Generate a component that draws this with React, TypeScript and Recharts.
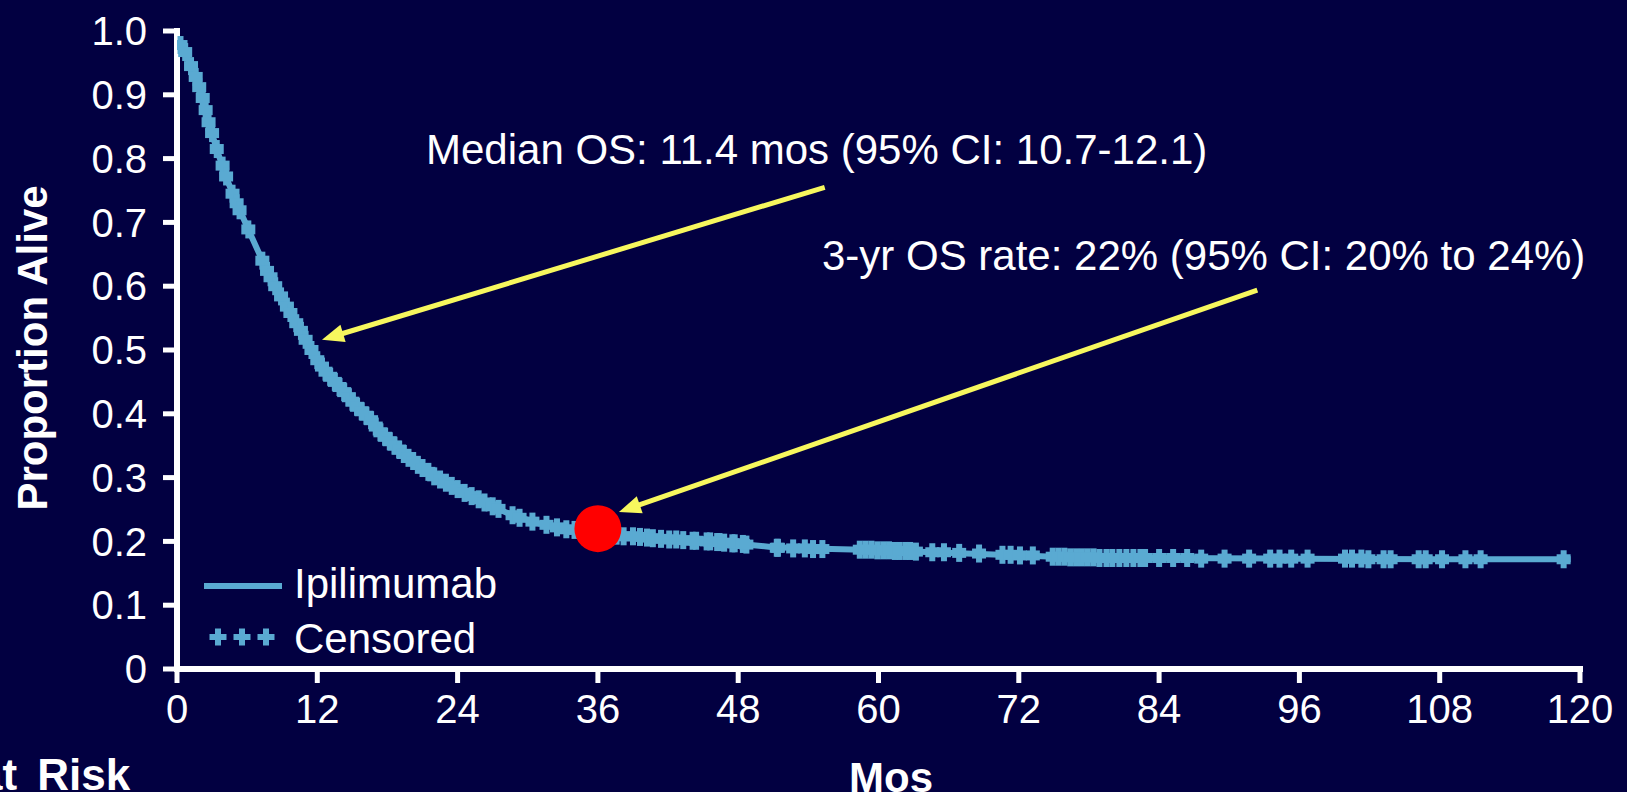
import React from 'react';
import { ComposedChart, Line, Scatter, XAxis, YAxis, ReferenceLine, Legend } from 'recharts';

// ---------- data ----------
const curveMonths = [0, 0.6, 1.2, 1.9, 2.6, 3.5, 4.35, 5.2, 6.2, 7.5, 8.9, 10.0, 11.4, 12.3, 13.3, 14.6, 15.3, 16.6, 17.6, 18.8, 19.9, 21.2, 22.5, 23.9, 25.3, 26.7, 28.2, 29.6, 31.0, 33.3, 36.0, 39.0, 43.3, 47.5, 51.0, 56.0, 60.4, 64.6, 70.4, 75, 80, 84, 96, 108, 119.2];
const curveSurvival = [0.985, 0.97, 0.945, 0.912, 0.862, 0.809, 0.764, 0.726, 0.685, 0.632, 0.584, 0.548, 0.503, 0.476, 0.454, 0.428, 0.412, 0.39, 0.368, 0.347, 0.33, 0.312, 0.297, 0.283, 0.27, 0.257, 0.245, 0.236, 0.228, 0.219, 0.214, 0.208, 0.202, 0.197, 0.191, 0.188, 0.186, 0.183, 0.179, 0.176, 0.174, 0.174, 0.173, 0.172, 0.172];

const censorMonths = [0.3, 0.7, 1.2, 1.6, 1.9, 2.2, 2.45, 2.7, 3.0, 3.4, 3.9, 4.2, 4.75, 5.1, 5.35, 6.1, 7.3, 7.7, 8.0, 8.4, 8.9, 9.4, 9.7, 10.2, 10.6, 11.0, 11.5, 12.0, 12.4, 12.7, 13.1, 13.5, 13.9, 14.3, 14.7, 15.0, 15.4, 15.8, 16.2, 16.6, 17.0, 17.4, 17.8, 18.2, 18.6, 19.0, 19.4, 19.8, 20.2, 20.6, 21.0, 21.5, 22.0, 22.5, 23.0, 23.5, 24.0, 24.6, 25.2, 25.8, 26.3, 27.0, 27.5, 28.7, 29.3, 30.4, 31.6, 32.5, 33.3, 34.0, 37.6, 38.2, 39.0, 39.6, 40.2, 40.7, 41.4, 42.1, 42.7, 43.3, 44.1, 44.4, 45.3, 45.6, 46.2, 46.4, 46.8, 47.5, 47.7, 48.4, 48.7, 51.3, 51.4, 52.7, 53.7, 54.4, 55.2, 58.4, 58.9, 59.4, 59.9, 60.4, 60.9, 61.4, 61.8, 62.3, 62.7, 63.2, 64.6, 65.6, 66.9, 68.6, 70.6, 71.3, 72.1, 73.2, 74.9, 75.4, 75.9, 76.4, 76.9, 77.4, 77.9, 78.4, 78.9, 79.5, 80.0, 80.6, 81.2, 81.8, 82.4, 82.8, 84.0, 85.2, 86.4, 87.6, 89.6, 91.7, 93.5, 94.3, 95.3, 96.7, 99.9, 100.5, 101.3, 101.9, 103.2, 103.8, 106.2, 106.8, 108.2, 110.2, 111.5, 118.6];
const censorSurvival = [0.978, 0.967, 0.945, 0.928, 0.912, 0.895, 0.876, 0.857, 0.84, 0.815, 0.789, 0.772, 0.745, 0.73, 0.719, 0.689, 0.64, 0.624, 0.614, 0.6, 0.584, 0.568, 0.558, 0.542, 0.53, 0.516, 0.5, 0.484, 0.474, 0.466, 0.458, 0.45, 0.442, 0.434, 0.426, 0.419, 0.411, 0.404, 0.397, 0.39, 0.38, 0.371, 0.364, 0.357, 0.35, 0.344, 0.337, 0.331, 0.326, 0.32, 0.315, 0.309, 0.302, 0.297, 0.292, 0.287, 0.282, 0.276, 0.271, 0.266, 0.261, 0.255, 0.251, 0.241, 0.237, 0.231, 0.226, 0.222, 0.219, 0.218, 0.209, 0.208, 0.208, 0.207, 0.206, 0.205, 0.204, 0.203, 0.203, 0.202, 0.201, 0.201, 0.2, 0.2, 0.199, 0.199, 0.198, 0.197, 0.197, 0.196, 0.195, 0.19, 0.19, 0.189, 0.189, 0.188, 0.188, 0.187, 0.187, 0.187, 0.186, 0.186, 0.186, 0.185, 0.185, 0.185, 0.185, 0.184, 0.183, 0.183, 0.182, 0.181, 0.179, 0.179, 0.178, 0.178, 0.176, 0.176, 0.176, 0.175, 0.175, 0.175, 0.175, 0.175, 0.174, 0.174, 0.174, 0.174, 0.174, 0.174, 0.174, 0.174, 0.174, 0.174, 0.174, 0.173, 0.173, 0.173, 0.173, 0.173, 0.173, 0.173, 0.173, 0.173, 0.173, 0.172, 0.172, 0.172, 0.172, 0.172, 0.172, 0.172, 0.172, 0.172];

const xTicks = [0, 12, 24, 36, 48, 60, 72, 84, 96, 108, 120];
const yTicks = [0, 0.1, 0.2, 0.3, 0.4, 0.5, 0.6, 0.7, 0.8, 0.9, 1.0];
const yTickLabels = ['0', '0.1', '0.2', '0.3', '0.4', '0.5', '0.6', '0.7', '0.8', '0.9', '1.0'];

const threeYearPoint = [{ month: 36, surv: 0.22 }];
const medianArrowFrom = { x: 55.4, y: 0.755 };
const medianArrowTo = { x: 12.4, y: 0.516 };
const rateArrowFrom = { x: 92.4, y: 0.594 };
const rateArrowTo = { x: 37.8, y: 0.246 };

const seriesName = 'Ipilimumab';
const censorName = 'Censored';
const medianText = 'Median OS: 11.4 mos (95% CI: 10.7-12.1)';
const rateText = '3-yr OS rate: 22% (95% CI: 20% to 24%)';

// ---------- build tables ----------
const curveData = curveMonths.map((m, i) => ({ month: m, surv: curveSurvival[i] }));
const censorData = censorMonths.map((m, i) => ({ month: m, surv: censorSurvival[i] }));

// ---------- styles ----------
const BG = '#020041';
const CURVE = '#5AAAD2';
const ARROW = '#F7F75E';
const FONT = '"Liberation Sans", Arial, Helvetica, sans-serif';

const CensorMark = (props: any) => {
  const { cx, cy } = props;
  if (cx == null || cy == null) return null;
  return (
    <g fill={CURVE}>
      <rect x={cx - 3} y={cy - 9} width={6} height={18} />
      <rect x={cx - 7} y={cy - 5} width={14} height={10} />
    </g>
  );
};

const RedDot = (props: any) => {
  const { cx, cy } = props;
  if (cx == null || cy == null) return null;
  return <circle cx={cx} cy={cy} r={23.5} fill="#FF0000" />;
};

const ArrowShape = (props: any) => {
  const { x1, y1, x2, y2 } = props;
  if ([x1, y1, x2, y2].some((v) => v == null || isNaN(v))) return null;
  const dx = x2 - x1;
  const dy = y2 - y1;
  const len = Math.sqrt(dx * dx + dy * dy);
  const ux = dx / len;
  const uy = dy / len;
  const headLen = 22;
  const headHalf = 9;
  const bx = x2 - ux * headLen;
  const by = y2 - uy * headLen;
  const px = -uy;
  const py = ux;
  return (
    <g>
      <line x1={x1} y1={y1} x2={bx + ux * 2} y2={by + uy * 2} stroke={ARROW} strokeWidth={5} />
      <polygon
        points={`${x2},${y2} ${bx + px * headHalf},${by + py * headHalf} ${bx - px * headHalf},${by - py * headHalf}`}
        fill={ARROW}
      />
    </g>
  );
};

const Plus = ({ cx, cy }: { cx: number; cy: number }) => (
  <g fill={CURVE}>
    <rect x={cx - 3} y={cy - 8.5} width={6} height={17} />
    <rect x={cx - 8.5} y={cy - 3} width={17} height={6} />
  </g>
);

const renderLegend = () => (
  <svg width={320} height={115} style={{ display: 'block' }}>
    <line x1={9} y1={36} x2={87} y2={36} stroke={CURVE} strokeWidth={6} />
    <Plus cx={23} cy={87} />
    <Plus cx={47} cy={87} />
    <Plus cx={71} cy={87} />
    <text x={99} y={48} fill="#FFFFFF" fontSize={42} fontFamily={FONT}>{seriesName}</text>
    <text x={99} y={103} fill="#FFFFFF" fontSize={42} fontFamily={FONT}>{censorName}</text>
  </svg>
);

export default function App() {
  return (
    <div style={{ position: 'absolute', left: 0, top: 0, width: 1627, height: 792, background: BG, overflow: 'hidden' }}>
      <ComposedChart
        width={1627}
        height={792}
        margin={{ top: 31, right: 47, bottom: 0, left: 0 }}
        style={{ background: BG }}
      >
        <XAxis
          type="number"
          dataKey="month"
          domain={[0, 120]}
          ticks={xTicks}
          interval={0}
          height={123}
          allowDataOverflow
          axisLine={{ stroke: '#FFFFFF', strokeWidth: 6, strokeLinecap: 'square' }}
          tickLine={{ stroke: '#FFFFFF', strokeWidth: 5 }}
          tickSize={14}
          tickMargin={12}
          tick={{ fill: '#FFFFFF', fontSize: 40, fontFamily: FONT }}
        />
        <YAxis
          type="number"
          domain={[0, 1]}
          ticks={yTicks}
          interval={0}
          width={177}
          allowDataOverflow
          axisLine={{ stroke: '#FFFFFF', strokeWidth: 6, strokeLinecap: 'square' }}
          tickLine={{ stroke: '#FFFFFF', strokeWidth: 5 }}
          tickSize={14}
          tickMargin={16}
          tick={{ fill: '#FFFFFF', fontSize: 40, fontFamily: FONT }}
          tickFormatter={(v: number) => yTickLabels[Math.round(v * 10)]}
        />
        <Legend
          layout="horizontal"
          verticalAlign="middle"
          align="center"
          content={renderLegend}
          wrapperStyle={{ position: 'absolute', left: 195, top: 550, width: 320, height: 115 }}
        />
        <Line
          data={curveData}
          dataKey="surv"
          type="linear"
          stroke={CURVE}
          strokeWidth={6}
          dot={false}
          activeDot={false}
          isAnimationActive={false}
          name={seriesName}
        />
        <Scatter
          data={censorData}
          dataKey="surv"
          shape={CensorMark}
          fill={CURVE}
          isAnimationActive={false}
          name={censorName}
        />
        <ReferenceLine segment={[medianArrowFrom, medianArrowTo]} shape={ArrowShape} ifOverflow="visible" />
        <ReferenceLine segment={[rateArrowFrom, rateArrowTo]} shape={ArrowShape} ifOverflow="visible" />
        <Scatter data={threeYearPoint} dataKey="surv" shape={RedDot} fill="#FF0000" isAnimationActive={false} legendType="none" />
      </ComposedChart>
      <svg
        width={1627}
        height={792}
        style={{ position: 'absolute', left: 0, top: 0, pointerEvents: 'none' }}
      >
        <text x={426} y={164} fill="#FFFFFF" fontSize={42} fontFamily={FONT}>{medianText}</text>
        <text x={822} y={270} fill="#FFFFFF" fontSize={42} fontFamily={FONT}>{rateText}</text>
        <text
          x={47}
          y={348}
          transform="rotate(-90 47 348)"
          textAnchor="middle"
          fill="#FFFFFF"
          fontSize={42}
          fontWeight="bold"
          fontFamily={FONT}
        >
          Proportion Alive
        </text>
        <text x={891} y={792} textAnchor="middle" fill="#FFFFFF" fontSize={42} fontWeight="bold" fontFamily={FONT}>Mos</text>
        <text x={-22} y={790} fill="#FFFFFF" fontSize={44} fontWeight="bold" fontFamily={FONT} wordSpacing={8}>at Risk</text>
      </svg>
    </div>
  );
}
